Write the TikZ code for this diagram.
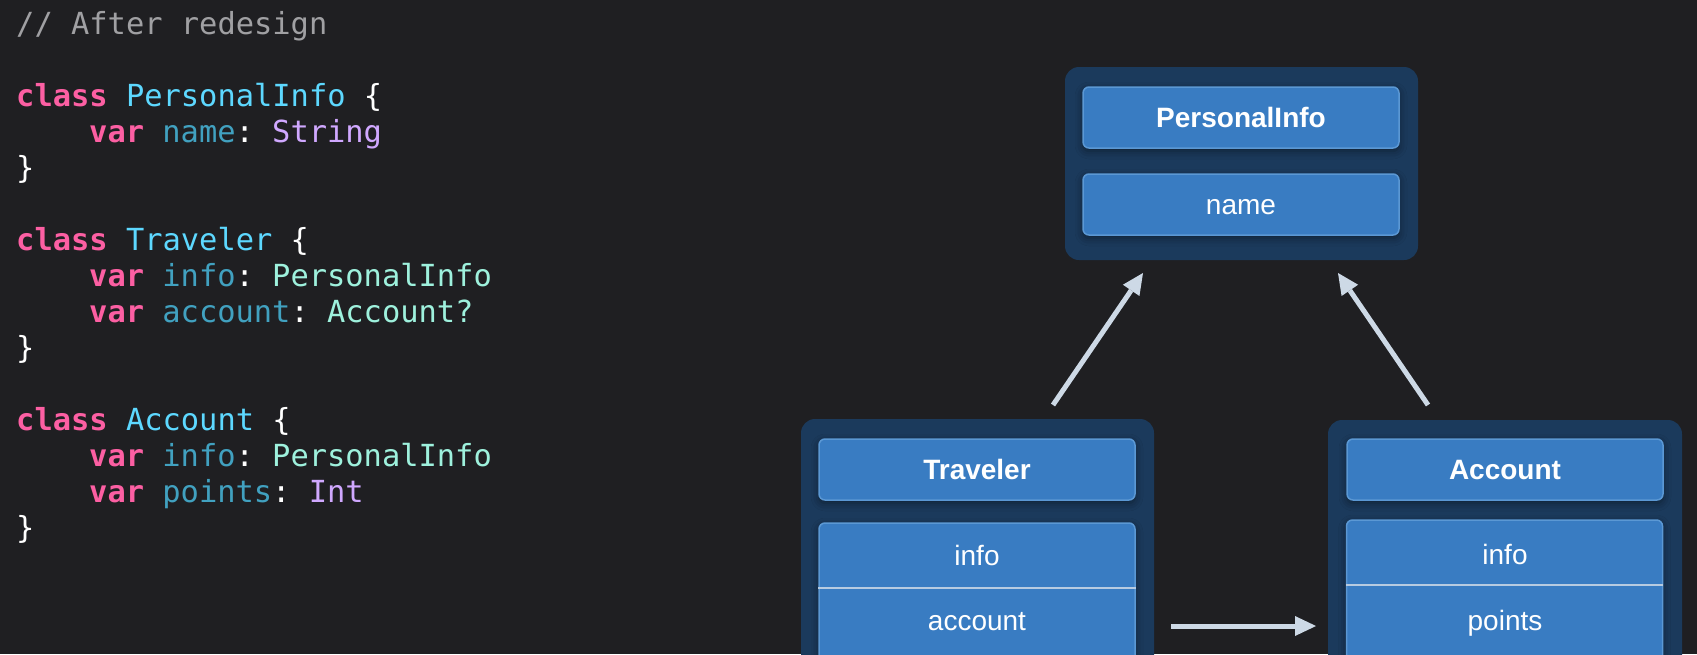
\documentclass[tikz,border=0pt]{standalone}
\usepackage{fontspec}
\setmainfont{Liberation Sans}
\setmonofont{DejaVu Sans Mono}
\usetikzlibrary{arrows.meta, shadows.blur}

\definecolor{bg}{HTML}{1F1F22}
\definecolor{outerblue}{HTML}{1B3A5C}
\definecolor{cellblue}{HTML}{397CC2}
\definecolor{cellrim}{HTML}{5B98D4}
\definecolor{ptrgrey}{HTML}{CDD9E6}
\definecolor{kwpink}{HTML}{FC5FA3}
\definecolor{typecyan}{HTML}{5DD8FF}
\definecolor{propteal}{HTML}{41A1C0}
\definecolor{refmint}{HTML}{9EF1DD}
\definecolor{syslilac}{HTML}{D0A8FF}
\definecolor{cmtgrey}{HTML}{A0A0A3}

\newcommand{\cdkw}[1]{\textcolor{kwpink}{\bfseries #1}}
\newcommand{\cdtype}[1]{\textcolor{typecyan}{#1}}
\newcommand{\cdprop}[1]{\textcolor{propteal}{#1}}
\newcommand{\cdref}[1]{\textcolor{refmint}{#1}}
\newcommand{\cdsys}[1]{\textcolor{syslilac}{#1}}

\begin{document}
\begin{tikzpicture}[x=1pt, y=-1pt,
    code/.style={anchor=base west, inner sep=0pt, text=white,
      font=\ttfamily\fontsize{30.4}{36}\selectfont},
    outer/.style={fill=outerblue, rounded corners=14pt, inner sep=0pt,
      minimum width=353pt},
    cell/.style={fill=cellblue, draw=cellrim, line width=1.5pt,
      rounded corners=6pt, inner sep=0pt, minimum width=316pt,
      minimum height=61pt, text=white, text height=20pt, text depth=0pt,
      font=\fontsize{28}{32}\selectfont,
      blur shadow={shadow xshift=0pt, shadow yshift=-3pt,
        shadow blur radius=8pt, shadow opacity=45}},
    head/.style={cell, font=\bfseries\fontsize{28}{32}\selectfont},
    field/.style={inner sep=0pt, text=white, text height=20pt, text depth=0pt,
      font=\fontsize{28}{32}\selectfont},
    sep/.style={draw=ptrgrey!85!cellblue, line width=2pt},
    ptr/.style={draw=ptrgrey, line width=5pt,
      -{Triangle[length=21pt, width=20pt, line width=0pt, fill=ptrgrey]}}]

    \useasboundingbox (0,0) rectangle (1697,654);
    \fill[bg] (0,0) rectangle (1697,654);
    \clip (0,0) rectangle (1697,654);

    % source code
    \node[code, text=cmtgrey] (cmt) at (16,34) {// After redesign};
    \node[code] (piDecl) at (16,106) {\cdkw{class} \cdtype{PersonalInfo} \{};
    \node[code] (piName) at (89,142) {\cdkw{var} \cdprop{name}: \cdsys{String}};
    \node[code] (piEnd) at (16,178) {\}};
    \node[code] (tvDecl) at (16,250) {\cdkw{class} \cdtype{Traveler} \{};
    \node[code] (tvInfo) at (89,286) {\cdkw{var} \cdprop{info}: \cdref{PersonalInfo}};
    \node[code] (tvAcct) at (89,322) {\cdkw{var} \cdprop{account}: \cdref{Account?}};
    \node[code] (tvEnd) at (16,358) {\}};
    \node[code] (acDecl) at (16,430) {\cdkw{class} \cdtype{Account} \{};
    \node[code] (acInfo) at (89,466) {\cdkw{var} \cdprop{info}: \cdref{PersonalInfo}};
    \node[code] (acPts) at (89,502) {\cdkw{var} \cdprop{points}: \cdsys{Int}};
    \node[code] (acEnd) at (16,538) {\}};

    % PersonalInfo object
    \node[outer, minimum height=193pt] (piBox) at (1241.5,163.5) {};
    \node[head] (piHead) at (1241,117.5) {PersonalInfo};
    \node[cell] (piField) at (1241,204.5) {name};

    % Traveler object
    \node[outer, minimum height=300pt] (tvBox) at (977.5,569) {};
    \node[head] (tvHead) at (977,469.5) {Traveler};
    \node[cell, minimum height=177pt] (tvFields) at (977,611.5) {};
    \draw[sep] (tvFields.west |- 0,588) -- (tvFields.east |- 0,588);
    \node[field] (tvInfoF) at (977,555.5) {info};
    \node[field] (tvAcctF) at (977,620.5) {account};

    % Account object
    \node[outer, minimum width=354pt, minimum height=300pt] (acBox) at (1505,570) {};
    \node[head] (acHead) at (1505,469.5) {Account};
    \node[cell, minimum height=180pt] (acFields) at (1504.5,610) {};
    \draw[sep] (acFields.west |- 0,585) -- (acFields.east |- 0,585);
    \node[field] (acInfoF) at (1505,554) {info};
    \node[field] (acPtsF) at (1505,620) {points};

    % references
    \coordinate (tvOut) at (1053,405);
    \coordinate (piInL) at (1143,273);
    \coordinate (acOut) at (1428,405);
    \coordinate (piInR) at (1338,273);
    \coordinate (acctOut) at (1171,626);
    \coordinate (acIn) at (1316,626);

    \path
    (tvOut) edge[ptr] (piInL)
    (acOut) edge[ptr] (piInR)
    (acctOut) edge[ptr] (acIn)
    ;
\end{tikzpicture}
\end{document}
